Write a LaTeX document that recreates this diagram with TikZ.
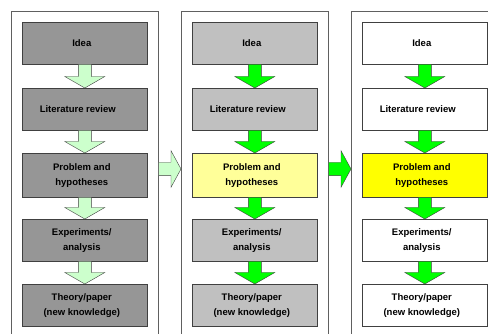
\documentclass[tikz,border=0pt]{standalone}
\usepackage{fontspec}
\setmainfont{Liberation Sans}
\usetikzlibrary{calc}
\definecolor{gA}{HTML}{969696}
\definecolor{gB}{HTML}{C0C0C0}
\definecolor{yA}{HTML}{FFFF99}
\definecolor{yB}{HTML}{FFFF00}
\definecolor{grA}{HTML}{CCFFCC}
\definecolor{grB}{HTML}{00FF00}
\definecolor{edgec}{HTML}{404040}
\definecolor{panelc}{HTML}{606060}
\tikzset{
 panel/.style={draw=panelc, line width=0.8pt, fill=white, anchor=north west, minimum width=147pt, minimum height=360pt, inner sep=0pt},
 stage/.style={draw=edgec, line width=0.6pt, anchor=north west, minimum width=125pt, minimum height=42pt, inner sep=0pt, align=center, font=\fontsize{9.5}{15}\selectfont\bfseries},
 blockarrow/.style={draw=edgec, line width=0.4pt},
}
\newcommand\Ln[1]{#1\hspace*{6pt}}
\newcommand\vflow[3]{%
 \draw[blockarrow, fill=#3] let \p1=(#1.south), \p2=(#2.north) in
  (\x1-6.5pt,\y1) -- (\x1-6.5pt,\y2+11.5pt) -- (\x1-20pt,\y2+11.5pt) -- (\x1,\y2) -- (\x1+20pt,\y2+11.5pt) -- (\x1+6.5pt,\y2+11.5pt) -- (\x1+6.5pt,\y1);
}
\newcommand\hflow[3]{%
 \draw[blockarrow, fill=#3] let \p1=(#1), \p2=(#2) in
  (\x1,\y1+6.7pt) -- (\x2-10pt,\y1+6.7pt) -- (\x2-10pt,\y1+18.3pt) -- (\x2,\y1) -- (\x2-10pt,\y1-18.3pt) -- (\x2-10pt,\y1-6.7pt) -- (\x1,\y1-6.7pt);
}
\begin{document}
\begin{tikzpicture}[x=1pt,y=-1pt]
\useasboundingbox (0,0) rectangle (488,334);
\clip (0,0) rectangle (488,334);
\fill[white] (0,0) rectangle (488,334);
% panels
\node[panel] (p1) at (11,11) {};
\node[panel] (p2) at (181,11) {};
\node[panel] (p3) at (351,11) {};
% horizontal flow arrows
\coordinate (hy) at (0,169);
\coordinate (h1s) at (p1.east |- hy);
\coordinate (h1e) at (p2.west |- hy);
\coordinate (h2s) at (p2.east |- hy);
\coordinate (h2e) at (p3.west |- hy);
\hflow{h1s}{h1e}{grA}
\hflow{h2s}{h2e}{grB}
% panel 1
\node[stage, fill=gA] (a1) at (22,22) {\Ln{Idea}};
\node[stage, fill=gA] (a2) at (22,88) {Literature review\hspace*{14pt}};
\node[stage, fill=gA, minimum height=44pt] (a3) at (22,153) {\Ln{Problem and}\\\Ln{hypotheses}};
\node[stage, fill=gA] (a4) at (22,219) {\Ln{Experiments/}\\\Ln{analysis}};
\node[stage, fill=gA] (a5) at (22,284) {\Ln{Theory/paper}\\\Ln{(new knowledge)}};
% panel 2
\node[stage, fill=gB] (b1) at (192,22) {\Ln{Idea}};
\node[stage, fill=gB] (b2) at (192,88) {Literature review\hspace*{14pt}};
\node[stage, fill=yA, minimum height=44pt] (b3) at (192,153) {\Ln{Problem and}\\\Ln{hypotheses}};
\node[stage, fill=gB] (b4) at (192,219) {\Ln{Experiments/}\\\Ln{analysis}};
\node[stage, fill=gB] (b5) at (192,284) {\Ln{Theory/paper}\\\Ln{(new knowledge)}};
% panel 3
\node[stage, fill=white] (c1) at (362,22) {\Ln{Idea}};
\node[stage, fill=white] (c2) at (362,88) {Literature review\hspace*{14pt}};
\node[stage, fill=yB, minimum height=44pt] (c3) at (362,153) {\Ln{Problem and}\\\Ln{hypotheses}};
\node[stage, fill=white] (c4) at (362,219) {\Ln{Experiments/}\\\Ln{analysis}};
\node[stage, fill=white] (c5) at (362,284) {\Ln{Theory/paper}\\\Ln{(new knowledge)}};
% vertical flow arrows
\vflow{a1}{a2}{grA}\vflow{a2}{a3}{grA}\vflow{a3}{a4}{grA}\vflow{a4}{a5}{grA}
\vflow{b1}{b2}{grB}\vflow{b2}{b3}{grB}\vflow{b3}{b4}{grB}\vflow{b4}{b5}{grB}
\vflow{c1}{c2}{grB}\vflow{c2}{c3}{grB}\vflow{c3}{c4}{grB}\vflow{c4}{c5}{grB}
\end{tikzpicture}
\end{document}
